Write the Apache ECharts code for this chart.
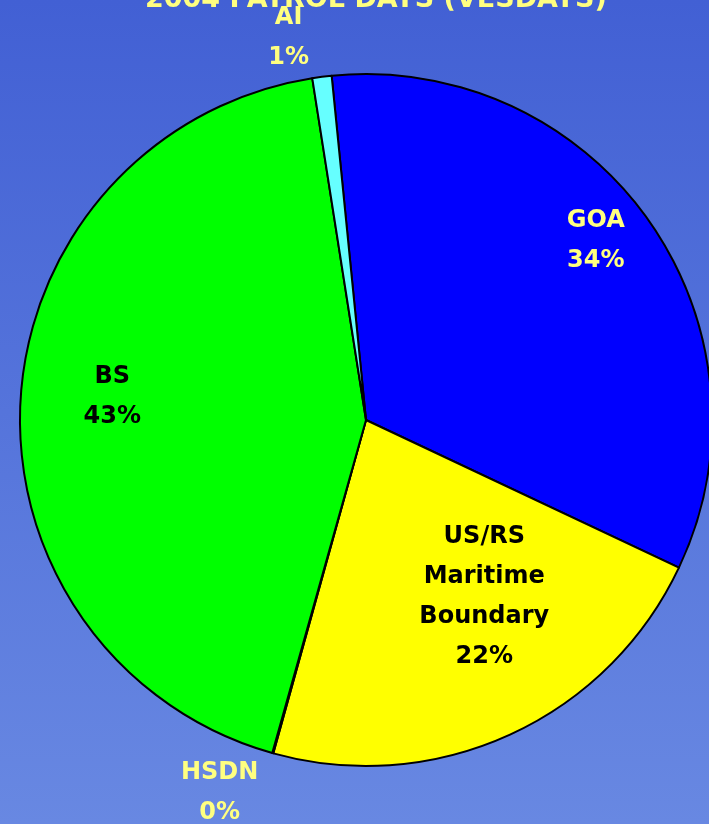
<!DOCTYPE html>
<html>
<head>
<meta charset="utf-8">
<script src="https://cdn.jsdelivr.net/npm/echarts@6/dist/echarts.min.js"></script>
<style>
html,body{margin:0;padding:0;}
#c{width:709px;height:824px;}
</style>
</head>
<body>
<div id="c"></div>
<script>
const titleText = '2004 PATROL DAYS (VESDAYS)';
const categories = ['GOA', 'US/RS\nMaritime\nBoundary', 'HSDN', 'BS', 'AI'];
const values = [33.6, 22.3, 0.05, 43.15, 0.9];
const sliceColors = ['#0000FF', '#FFFF00', '#FF00FF', '#00FF00', '#66FFFF'];
const labelColors = ['#FFFF80', '#000000', '#FFFF80', '#000000', '#FFFF80'];
const labelShift = [[86, -78], [45, 17], [-99, 203], [-78, -13], [-55, -208]];

const chart = echarts.init(document.getElementById('c'), null, {renderer: 'canvas'});
chart.setOption({
  backgroundColor: new echarts.graphic.LinearGradient(0, 0, 0, 1, [
    {offset: 0, color: '#4260D4'},
    {offset: 1, color: '#6888E2'}
  ]),
  title: {
    text: titleText,
    left: 140,
    top: -19,
    textStyle: {fontFamily: 'DejaVu Sans', fontWeight: 'bold', fontSize: 27, color: '#FFFF80'}
  },
  series: [{
    type: 'pie',
    center: [366, 420],
    radius: 346,
    startAngle: 95.7,
    clockwise: true,
    percentPrecision: 0,
    avoidLabelOverlap: false,
    animation: false,
    itemStyle: {borderColor: '#000', borderWidth: 2},
    label: {
      show: true,
      position: 'inside',
      formatter: '{b}\n{d}%',
      fontFamily: 'DejaVu Sans',
      fontWeight: 'bold',
      fontSize: 24,
      lineHeight: 40,
      align: 'center'
    },
    labelLine: {show: false},
    emphasis: {disabled: true},
    labelLayout: function (p) {
      const s = labelShift[p.dataIndex];
      return {dx: s[0], dy: s[1]};
    },
    data: categories.map((c, i) => ({
      name: c,
      value: values[i],
      itemStyle: {color: sliceColors[i]},
      label: {color: labelColors[i], textBorderWidth: 0}
    }))
  }]
});
</script>
</body>
</html>
